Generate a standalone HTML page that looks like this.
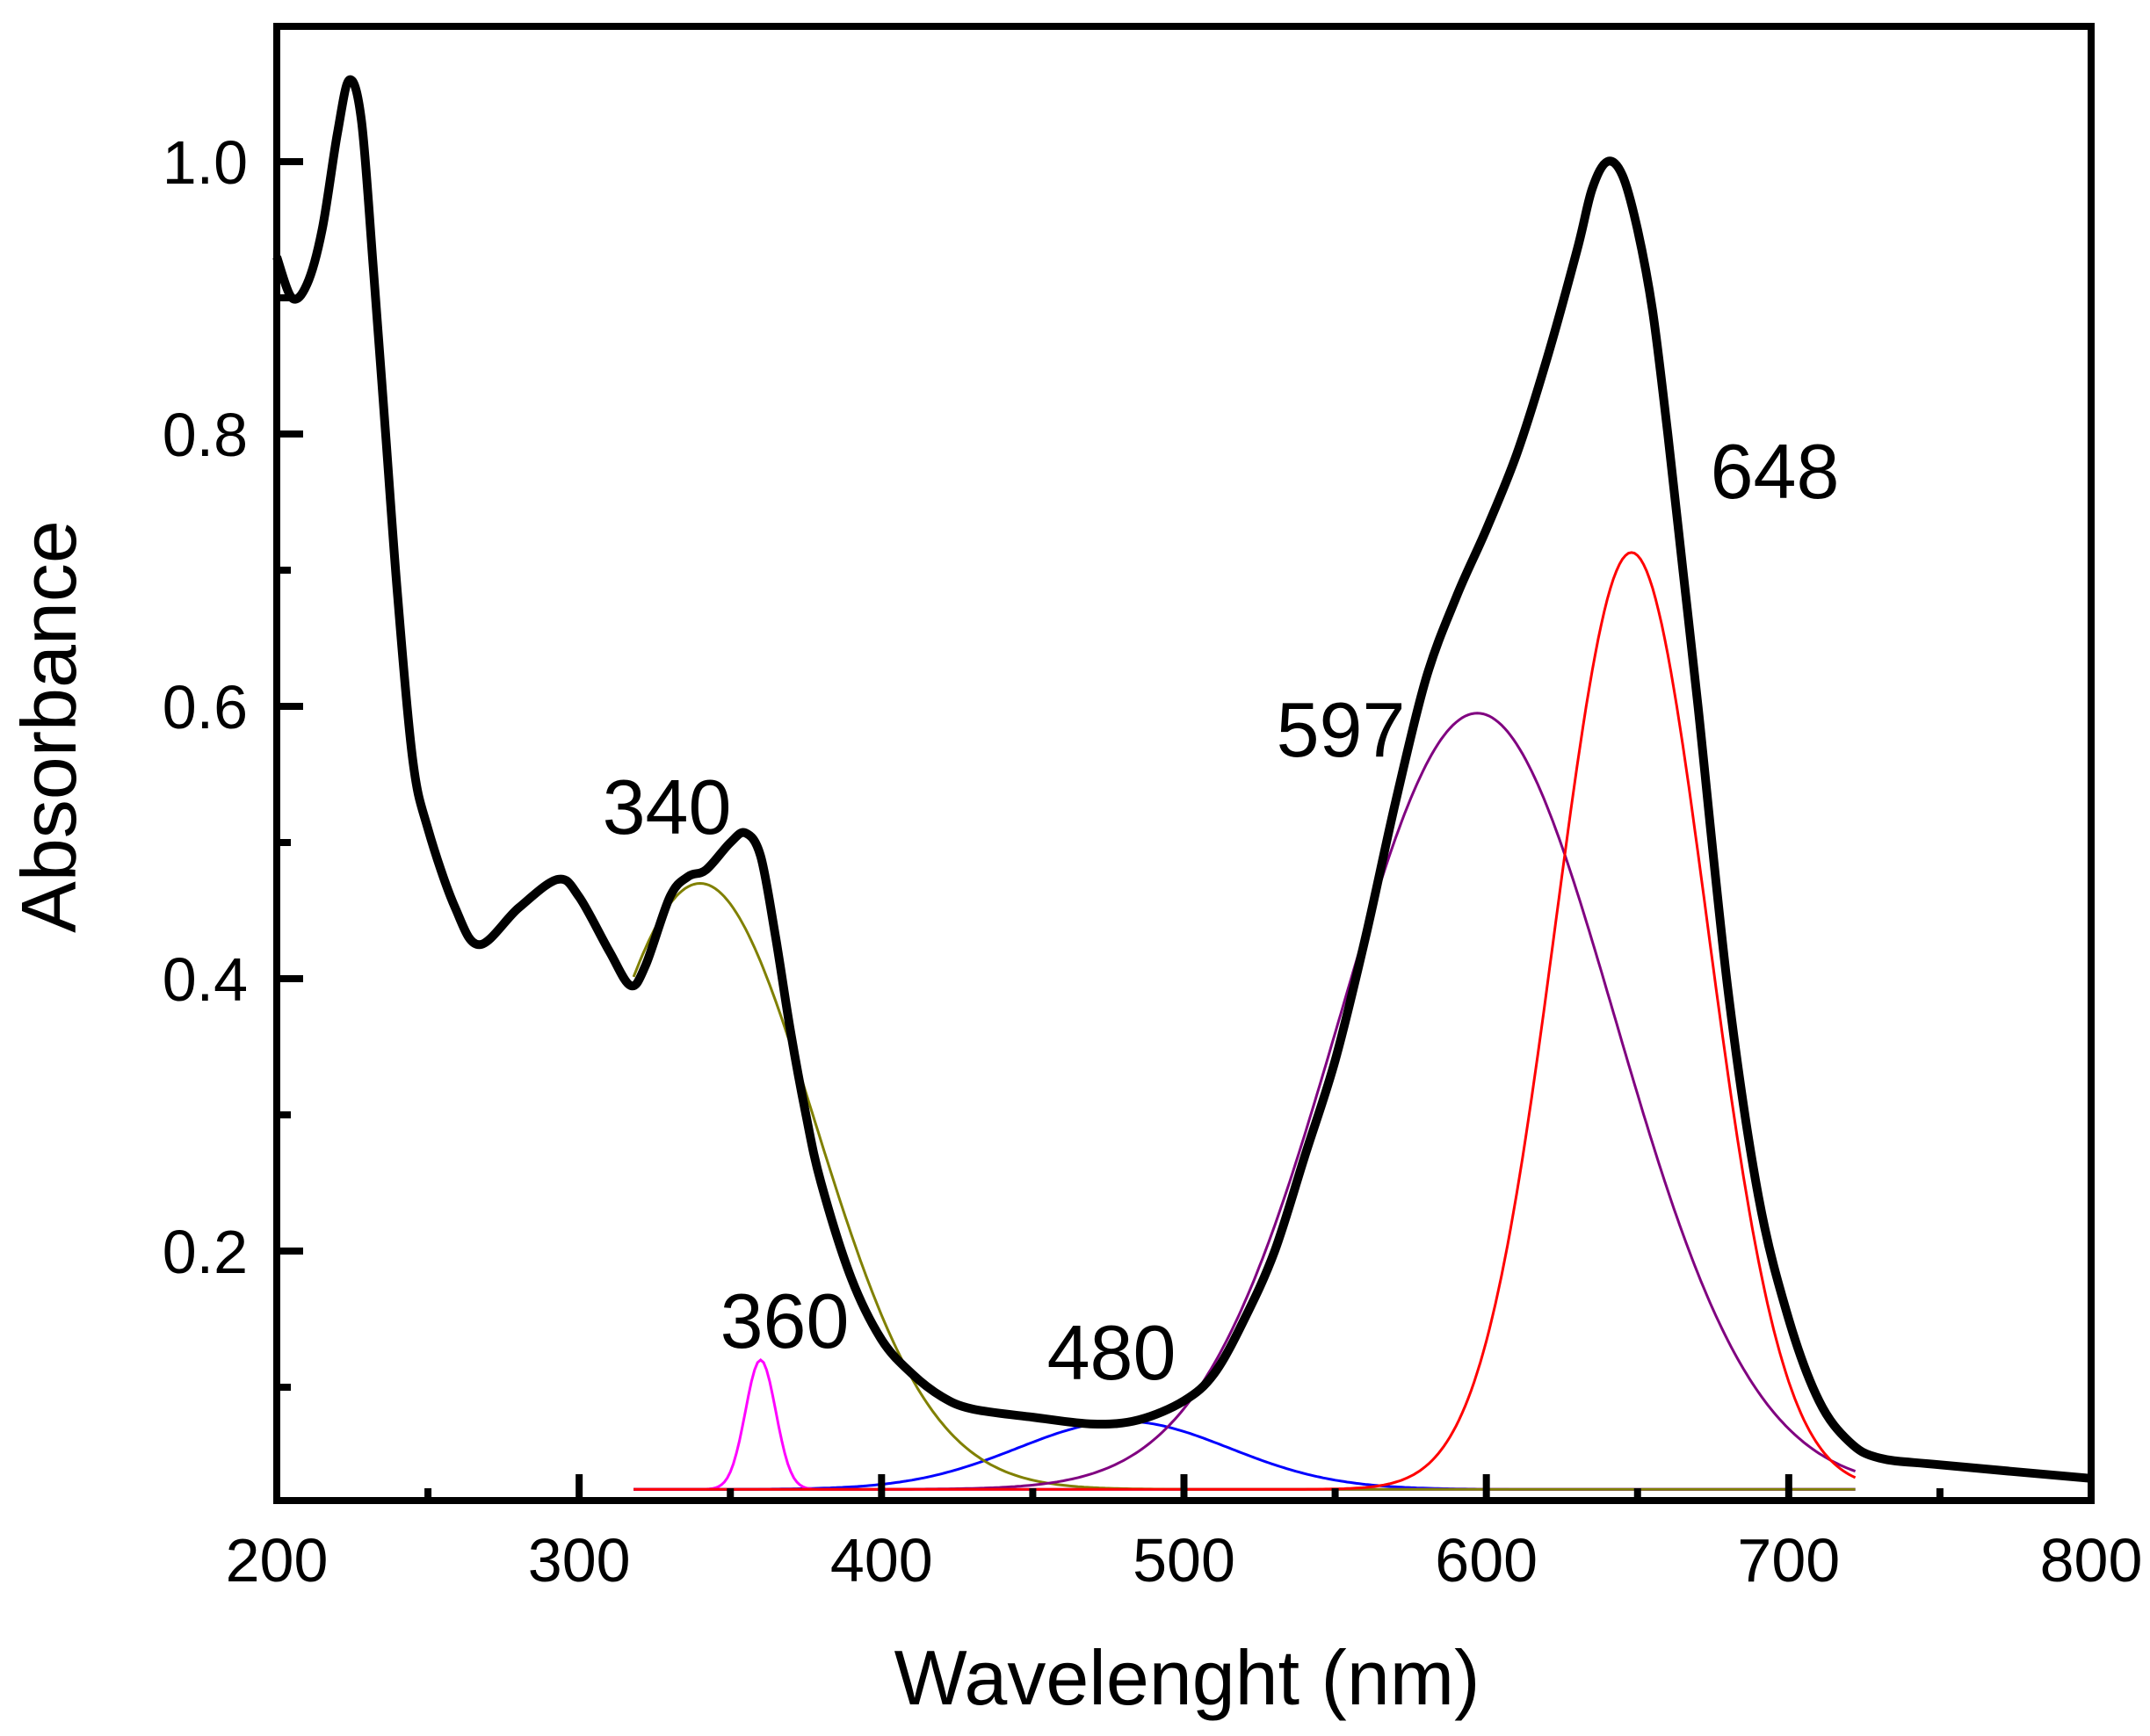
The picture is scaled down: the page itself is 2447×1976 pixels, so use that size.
<!DOCTYPE html>
<html><head><meta charset="utf-8">
<style>html,body{margin:0;padding:0;background:#fff;}svg{display:block;}</style>
</head><body>
<svg id="s" width="2447" height="1976" viewBox="0 0 2447 1976" xmlns="http://www.w3.org/2000/svg" font-family="Liberation Sans, Arial, sans-serif">
<rect width="2447" height="1976" fill="#fff"/>
<g id="curves"></g>
<rect x="315" y="30" width="2065" height="1678" fill="none" stroke="#000" stroke-width="8"/>
<g id="ticks" stroke="#000" stroke-width="8"></g>
<g font-size="70" fill="#000" id="labels"></g>
<g font-size="88" fill="#000" text-anchor="middle">
<text x="759" y="949">340</text>
<text x="893" y="1534">360</text>
<text x="1265" y="1570">480</text>
<text x="1526" y="861">597</text>
<text x="2020" y="567">648</text>
</g>
<text x="1351" y="1940" font-size="88" text-anchor="middle">Wavelenght (nm)</text>
<text transform="translate(86,827) rotate(-90)" font-size="88" text-anchor="middle">Absorbance</text>
</svg>
<script>
var NS="http://www.w3.org/2000/svg";
function X(n){return 315+(n-200)*2065/600;}
function Y(a){return 184+(1-a)*1550;}
function el(t,at,p){var e=document.createElementNS(NS,t);for(var k in at)e.setAttribute(k,at[k]);p.appendChild(e);return e;}
var tk=document.getElementById('ticks'),lb=document.getElementById('labels');
for(var n=200;n<=800;n+=50){var maj=n%100==0;var x=X(n);
 if(n>200&&n<800)el('line',{x1:x,y1:1708,x2:x,y2:maj?1678:1694},tk);
 if(maj){var t=el('text',{x:x,y:1800,'text-anchor':'middle'},lb);t.textContent=n;}}
for(var i=1;i<=10;i++){var a=i/10;var y=Y(a);var maj=i%2==0;
 el('line',{x1:315,y1:y,x2:maj?345:331,y2:y},tk);
 if(maj){var t=el('text',{x:282,y:y+25,'text-anchor':'end'},lb);t.textContent=a.toFixed(1);}}
var cv=document.getElementById('curves');
function gpath(c,A,s,col){var d='';for(var n=318;n<=722;n+=1){var a=0.025+A*Math.exp(-(n-c)*(n-c)/(2*s*s));d+=(n==318?'M':'L')+X(n).toFixed(1)+' '+Y(a).toFixed(1);}
 el('path',{d:d,fill:'none',stroke:col,'stroke-width':3},cv);}
el('line',{x1:X(318),y1:Y(0.025),x2:X(722),y2:Y(0.025),stroke:'#00e0e0','stroke-width':3},cv);
gpath(480,0.05,35,'#0000ff');
gpath(360,0.095,5,'#ff00ff');
gpath(340,0.445,38,'#808000');
gpath(597,0.57,45.6,'#800080');
gpath(648,0.688,25,'#ff0000');
var P=[[200,0.93],[205,0.9],[210,0.91],[215,0.95],[220,1.02],[224,1.06],[228,1.03],[232,0.92],[236,0.8],[240,0.68],[245,0.56],[250,0.51],[259,0.452],[267,0.425],[280,0.452],[293,0.473],[300,0.46],[310,0.42],[317,0.395],[322,0.41],[330,0.46],[336,0.475],[342,0.48],[350,0.5],[355,0.507],[360,0.49],[365,0.43],[370,0.36],[375,0.3],[380,0.25],[390,0.18],[400,0.135],[410,0.11],[420,0.093],[430,0.084],[450,0.078],[470,0.073],[485,0.076],[500,0.09],[510,0.11],[520,0.15],[530,0.2],[540,0.27],[550,0.34],[560,0.43],[570,0.53],[580,0.62],[590,0.68],[600,0.73],[610,0.785],[620,0.855],[630,0.935],[635,0.98],[640,1.0],[645,0.99],[650,0.95],[655,0.89],[660,0.8],[665,0.7],[670,0.6],[680,0.39],[690,0.24],[700,0.15],[710,0.09],[720,0.06],[730,0.048],[750,0.043],[800,0.033]];
var pts=P.map(function(p){return [X(p[0]),Y(p[1])];});
var d='M'+pts[0][0]+' '+pts[0][1];
for(var i=0;i<pts.length-1;i++){var p0=pts[Math.max(0,i-1)],p1=pts[i],p2=pts[i+1],p3=pts[Math.min(pts.length-1,i+2)];
 d+='C'+(p1[0]+(p2[0]-p0[0])/6).toFixed(1)+' '+(p1[1]+(p2[1]-p0[1])/6).toFixed(1)+','+(p2[0]-(p3[0]-p1[0])/6).toFixed(1)+' '+(p2[1]-(p3[1]-p1[1])/6).toFixed(1)+','+p2[0].toFixed(1)+' '+p2[1].toFixed(1);}
el('path',{d:d,fill:'none',stroke:'#000','stroke-width':10,'stroke-linejoin':'round'},cv);
</script>
</body></html>
